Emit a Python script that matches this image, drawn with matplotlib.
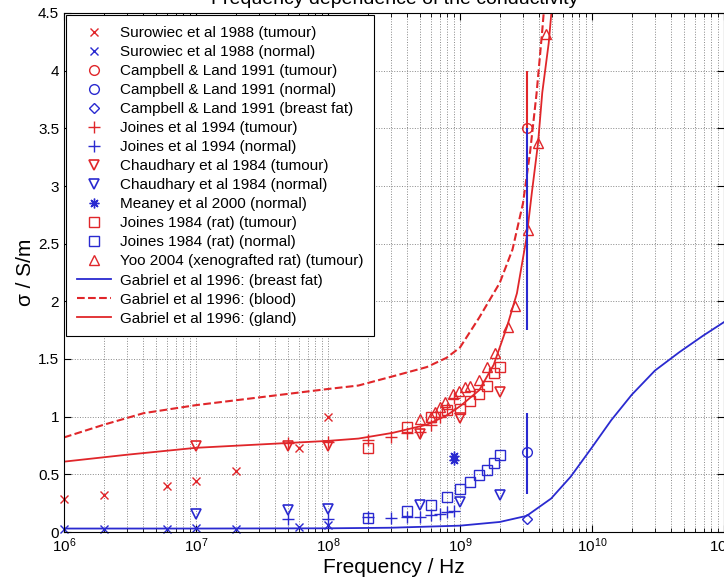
import numpy as np
import matplotlib.pyplot as plt

plt.rcParams['font.family'] = ['Liberation Sans', 'DejaVu Sans']

# --- datos ---
rojo = '#e0262a'
azul = '#2a2ad0'

# Surowiec et al 1988
sur_f = [1e6, 2e6, 6e6, 1e7, 2e7, 6e7, 1e8]
sur_tum = [0.29, 0.32, 0.40, 0.44, 0.53, 0.73, 1.00]
sur_nor = [0.03, 0.03, 0.03, 0.035, 0.03, 0.04, 0.06]

# Campbell & Land 1991 (3.2 GHz)
cl_f = [3.2e9]
cl_tum = [3.5]
cl_nor = [0.69]
cl_fat = [0.11]
cl_bar_tum = [3.5, 4.0]
cl_bar_mid = [1.75, 3.5]
cl_bar_nor = [0.33, 1.03]

# Joines et al 1994
jo_f = [5e7, 1e8, 2e8, 3e8, 4e8, 5e8, 6e8, 7e8, 8e8, 9e8]
jo_tum = [0.77, 0.78, 0.80, 0.82, 0.86, 0.87, 0.93, 1.00, 1.07, 1.16]
jo_nor = [0.11, 0.11, 0.13, 0.12, 0.13, 0.13, 0.15, 0.156, 0.17, 0.185]

# Chaudhary et al 1984
ch_f = [1e7, 5e7, 1e8, 5e8, 1e9, 2e9]
ch_tum = [0.75, 0.75, 0.75, 0.85, 0.99, 1.21]
ch_nor = [0.16, 0.19, 0.20, 0.23, 0.26, 0.32]

# Meaney et al 2000
me_f = [9e8, 9e8]
me_nor = [0.62, 0.66]

# Joines 1984 (rat)
jr_f = [2e8, 4e8, 6e8, 8e8, 1e9, 1.2e9, 1.4e9, 1.6e9, 1.8e9, 2e9]
jr_tum = [0.73, 0.91, 1.00, 1.06, 1.07, 1.14, 1.20, 1.27, 1.38, 1.43]
jr_nor = [0.12, 0.18, 0.23, 0.30, 0.37, 0.43, 0.49, 0.54, 0.60, 0.67]

# Yoo 2004
yoo_f = [5e8, 6e8, 6.5e8, 7e8, 7.7e8, 8.9e8, 9.8e8, 1.1e9, 1.2e9, 1.4e9,
         1.6e9, 1.85e9, 2.3e9, 2.6e9, 3.3e9, 3.9e9, 4.5e9]
yoo_tum = [0.98, 1.0, 1.04, 1.08, 1.13, 1.20, 1.22, 1.26, 1.27, 1.32,
           1.43, 1.55, 1.78, 1.96, 2.62, 3.37, 4.32]

# Gabriel et al 1996 (curvas)
gf_f = [1e6, 1e7, 1e8, 3e8, 1e9, 2e9, 3.2e9, 4.9e9, 6.9e9, 9.8e9, 1.4e10,
        2e10, 3e10, 4.6e10, 6.9e10, 1e11]
gf_fat = [0.03, 0.03, 0.032, 0.037, 0.055, 0.087, 0.14, 0.29, 0.48, 0.72,
          0.97, 1.19, 1.40, 1.56, 1.70, 1.82]

gb_f = [1e6, 2e6, 4e6, 1e7, 1e8, 1.7e8, 3.1e8, 5.6e8, 7.9e8, 1e9, 1.4e9,
        2e9, 2.5e9, 3e9, 3.4e9, 3.8e9, 4.2e9, 4.6e9]
gb_blood = [0.82, 0.93, 1.03, 1.10, 1.24, 1.27, 1.35, 1.43, 1.51, 1.60, 1.86,
            2.16, 2.45, 2.85, 3.30, 3.80, 4.35, 4.9]

gg_f = [1e6, 3e6, 1e7, 1e8, 1.7e8, 3.1e8, 5.6e8, 7.9e8, 1e9, 1.4e9, 1.8e9,
        2.27e9, 2.7e9, 3.2e9, 3.5e9, 3.9e9, 4.2e9, 4.7e9, 5.1e9]
gg_gland = [0.61, 0.67, 0.73, 0.79, 0.81, 0.86, 0.93, 1.01, 1.09, 1.23, 1.45,
            1.78, 2.07, 2.56, 2.94, 3.37, 3.81, 4.24, 4.7]

# --- grafica ---
fig = plt.figure(figsize=(7.24, 5.85), dpi=100)
ax = fig.add_axes([64/724, 1 - 532/585, 1 - 64/724, (532 - 13)/585])

ms = 7
asterisco = (8, 2, 0)
ax.plot(sur_f, sur_tum, 'x', color=rojo, ms=6, clip_on=False, label='Surowiec et al 1988 (tumour)')
ax.plot(sur_f, sur_nor, 'x', color=azul, ms=6, clip_on=False, label='Surowiec et al 1988 (normal)')
ax.plot(cl_f, cl_tum, 'o', color=rojo, mfc='none', ms=ms, label='Campbell & Land 1991 (tumour)')
ax.plot(cl_f, cl_nor, 'o', color=azul, mfc='none', ms=ms, label='Campbell & Land 1991 (normal)')
ax.plot(cl_f, cl_fat, 'D', color=azul, mfc='none', ms=5, label='Campbell & Land 1991 (breast fat)')
ax.plot(jo_f, jo_tum, '+', color=rojo, ms=9, label='Joines et al 1994 (tumour)')
ax.plot(jo_f, jo_nor, '+', color=azul, ms=9, label='Joines et al 1994 (normal)')
ax.plot(ch_f, ch_tum, 'v', color=rojo, mfc='none', ms=ms, mew=1.2, label='Chaudhary et al 1984 (tumour)')
ax.plot(ch_f, ch_nor, 'v', color=azul, mfc='none', ms=ms, mew=1.2, label='Chaudhary et al 1984 (normal)')
ax.plot(me_f, me_nor, marker=asterisco, ls='none', color=azul, ms=7, mew=1.0, label='Meaney et al 2000 (normal)')
ax.plot(jr_f, jr_tum, 's', color=rojo, mfc='none', ms=ms, label='Joines 1984 (rat) (tumour)')
ax.plot(jr_f, jr_nor, 's', color=azul, mfc='none', ms=ms, label='Joines 1984 (rat) (normal)')
ax.plot(yoo_f, yoo_tum, '^', color=rojo, mfc='none', ms=ms, label='Yoo 2004 (xenografted rat) (tumour)')
ax.plot(gf_f, gf_fat, '-', color=azul, lw=1.3, label='Gabriel et al 1996: (breast fat)')
ax.plot(gb_f, gb_blood, '--', color=rojo, lw=1.5, label='Gabriel et al 1996: (blood)')
ax.plot(gg_f, gg_gland, '-', color=rojo, lw=1.3, label='Gabriel et al 1996: (gland)')

# barras de Campbell & Land
ax.vlines(cl_f, cl_bar_tum[0], cl_bar_tum[1], color=rojo, lw=1.5)
ax.vlines(cl_f, cl_bar_mid[0], cl_bar_mid[1], color=azul, lw=1.5)
ax.vlines(cl_f, cl_bar_nor[0], cl_bar_nor[1], color=azul, lw=1.5)

ax.set_xscale('log')
ax.set_xlim(1e6, 1e11)
ax.set_ylim(0, 4.5)
ax.set_yticks(np.arange(0, 4.51, 0.5))
ax.set_yticklabels(['0', '0.5', '1', '1.5', '2', '2.5', '3', '3.5', '4', '4.5'])
ax.tick_params(which='both', direction='in', top=True, right=True, labelsize=11)
ax.tick_params(which='major', length=5)
ax.tick_params(which='minor', length=3)
ax.grid(True, which='both', linestyle=':', color='#888888', lw=0.7)

ax.set_xlabel('Frequency / Hz', fontsize=15, labelpad=2)
ax.set_ylabel('σ / S/m', fontsize=15, labelpad=2)
fig.text(0.545, 1.0, 'Frequency dependence of the conductivity', fontsize=14,
         ha='center', va='center')

leg = ax.legend(loc='upper left', fontsize=11, labelspacing=0.33, handlelength=2.2,
                handletextpad=0.6, borderpad=0.7, borderaxespad=0.15, fancybox=False,
                edgecolor='black', framealpha=1)
leg.get_frame().set_linewidth(0.8)

plt.savefig('out.png', dpi=100)
